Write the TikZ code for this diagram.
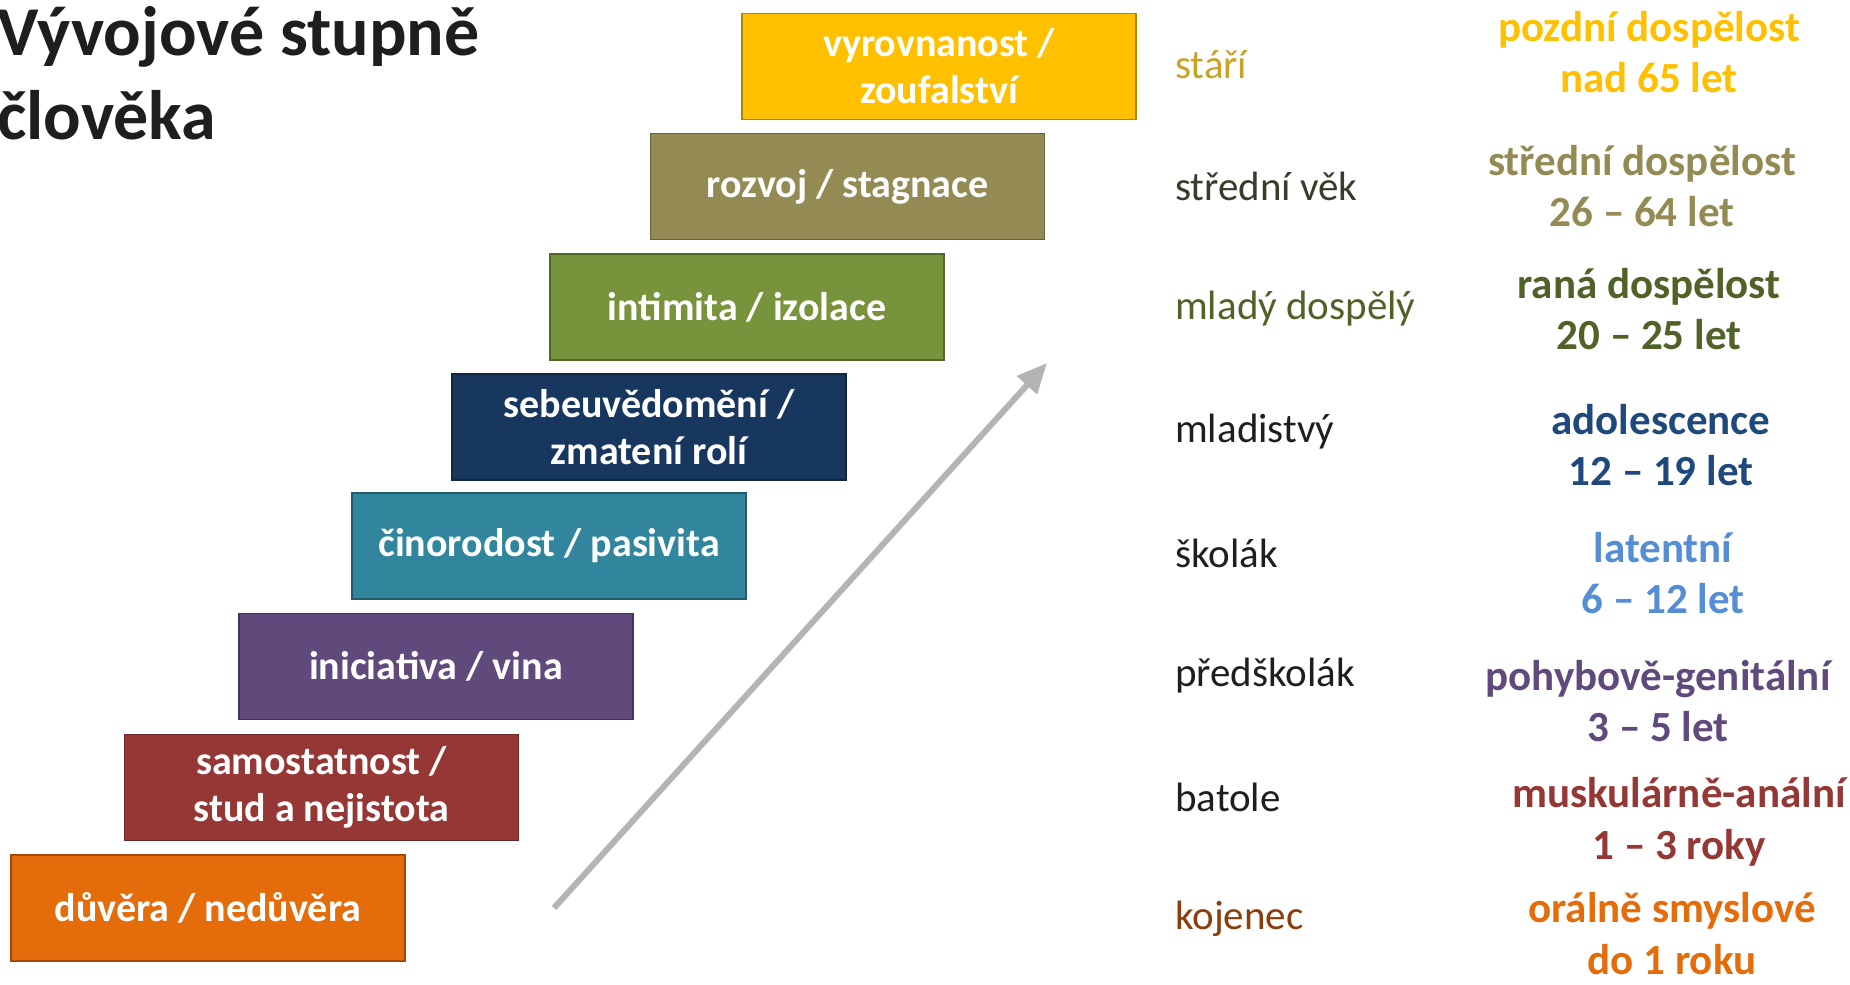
\documentclass[tikz,border=0pt]{standalone}
\usepackage{fontspec}
\setmainfont{Carlito}
\usetikzlibrary{arrows.meta}
\definecolor{cOrange}{HTML}{E46C0A}
\definecolor{cRed}{HTML}{953735}
\definecolor{cPurple}{HTML}{604A7B}
\definecolor{cTeal}{HTML}{31859C}
\definecolor{cNavy}{HTML}{17375E}
\definecolor{cGreen}{HTML}{77933C}
\definecolor{cOlive}{HTML}{948A54}
\definecolor{cGold}{HTML}{FFC000}
\definecolor{tGold}{HTML}{C9A228}
\definecolor{tDark}{HTML}{1E1E1E}
\definecolor{tOliveDark}{HTML}{3B3B2A}
\definecolor{tGreen}{HTML}{4F6228}
\definecolor{tBrown}{HTML}{8A3E0C}
\definecolor{rGreen}{HTML}{4F6228}
\definecolor{rNavy}{HTML}{1F497D}
\definecolor{rBlue}{HTML}{558ED5}
\definecolor{arrowgray}{HTML}{B4B4B4}
\tikzset{
  stage/.style={draw=#1!70!black, fill=#1, line width=1.2pt,
    minimum width=394pt, minimum height=106pt, inner sep=0pt,
    text=white, align=center,
    font=\bfseries\fontsize{40}{47}\selectfont},
  agelabel/.style={anchor=west, text=#1, font=\fontsize{41}{48}\selectfont, inner sep=0pt},
  phaselabel/.style={text=#1, align=center, inner sep=0pt,
    font=\bfseries\fontsize{43}{51.6}\selectfont},
  growth/.style={draw=arrowgray, line width=6pt,
    -{Triangle[length=30pt,width=26pt]}}
}
\begin{document}
\begin{tikzpicture}[x=1pt,y=-1pt]
\useasboundingbox (0,0) rectangle (1850,985);
\fill[white] (0,0) rectangle (1850,985);

\node[anchor=north west, align=left, inner sep=0pt, text=tDark,
  font=\bfseries\fontsize{70}{84}\selectfont] (title) at (-3,6)
  {Vývojové stupně\\člověka};

\node[stage=cOrange] (s1) at (208,908) {důvěra / nedůvěra};
\node[stage=cRed] (s2) at (321.5,787.5) {samostatnost /\\stud a nejistota};
\node[stage=cPurple] (s3) at (436,666.5) {iniciativa / vina};
\node[stage=cTeal] (s4) at (549,546) {činorodost / pasivita};
\node[stage=cNavy] (s5) at (649,427) {sebeuvědomění /\\zmatení rolí};
\node[stage=cGreen] (s6) at (747,307) {intimita / izolace};
\node[stage=cOlive] (s7) at (847.5,186.5) {rozvoj / stagnace};
\node[stage=cGold] (s8) at (939,66.5) {vyrovnanost /\\zoufalství};

\coordinate (a0) at (554,908);
\coordinate (a1) at (1047,363);
\draw[growth] (a0) -- (a1);

\node[agelabel=tGold] (g8) at (1175,65) {stáří};
\node[agelabel=tOliveDark] (g7) at (1175,186) {střední věk};
\node[agelabel=tGreen] (g6) at (1175,309) {mladý dospělý};
\node[agelabel=tDark] (g5) at (1175,432) {mladistvý};
\node[agelabel=tDark] (g4) at (1175,553) {školák};
\node[agelabel=tDark] (g3) at (1175,676) {předškolák};
\node[agelabel=tDark] (g2) at (1175,797) {batole};
\node[agelabel=tBrown] (g1) at (1175,919) {kojenec};

\node[phaselabel=cGold] (p8) at (1649,52) {pozdní dospělost\\nad 65 let};
\node[phaselabel=cOlive] (p7) at (1642,186) {střední dospělost\\26 – 64 let};
\node[phaselabel=rGreen] (p6) at (1649,309) {raná dospělost\\20 – 25 let};
\node[phaselabel=rNavy] (p5) at (1661,445) {adolescence\\12 – 19 let};
\node[phaselabel=rBlue] (p4) at (1663,573) {latentní\\6 – 12 let};
\node[phaselabel=cPurple] (p3) at (1658,701) {pohybově-genitální\\3 – 5 let};
\node[phaselabel=cRed] (p2) at (1679,822) {muskulárně-anální\\1 – 3 roky};
\node[phaselabel=cOrange, anchor=south] (p1) at (1672,975) {orálně smyslové\\do 1 roku};
\end{tikzpicture}
\end{document}
